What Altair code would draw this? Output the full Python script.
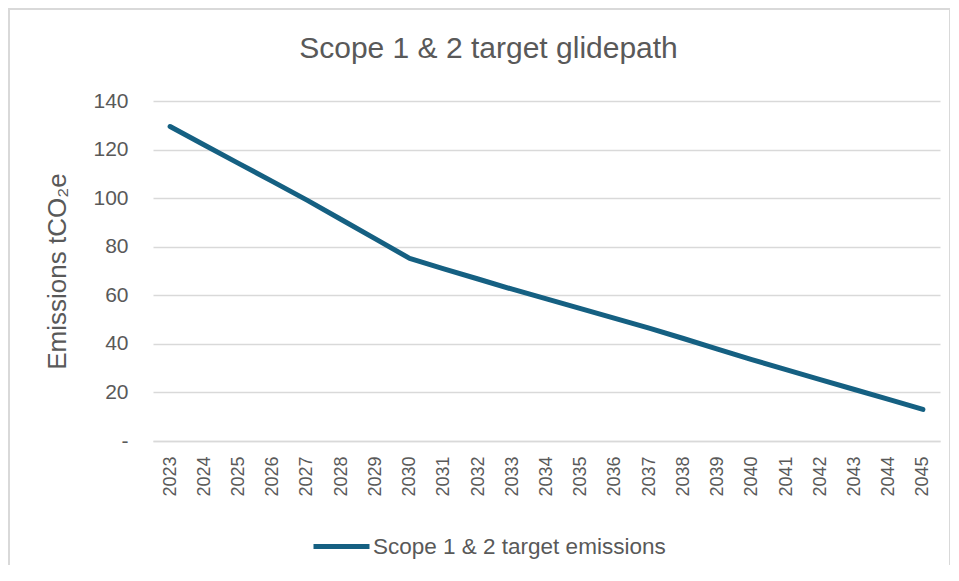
import altair as alt
import pandas as pd

years = [str(y) for y in range(2023, 2046)]
emissions = [129.5, 121.9, 114.3, 106.8, 99.2, 91.2, 83.2, 75.2, 70.9, 66.7,
             62.5, 58.5, 54.5, 50.5, 46.5, 42.2, 37.8, 33.5, 29.4, 25.3,
             21.2, 17.1, 13.0]
series_name = "Scope 1 & 2 target emissions"
y_ticks = [0, 20, 40, 60, 80, 100, 120, 140]

df = pd.DataFrame({"year": years, "value": emissions, "series": series_name})

W, H = 787, 340
TEXT = "#595959"
FONT = "Liberation Sans"

line = alt.Chart(df).mark_line(strokeWidth=5, strokeCap="round", strokeJoin="round").encode(
    x=alt.X("year:O", scale=alt.Scale(type="point", padding=0.5),
            axis=alt.Axis(title=None, labelAngle=-90, labelPadding=15, labelFontSize=18,
                          labelColor=TEXT, labelFont=FONT, ticks=False, domain=True,
                          domainColor="#d9d9d9", domainWidth=1.5, grid=False)),
    y=alt.Y("value:Q", scale=alt.Scale(domain=[0, 140], nice=False),
            axis=alt.Axis(values=y_ticks, title="Emissions tCO₂e",
                          labelExpr="datum.value == 0 ? '-' : datum.label",
                          labelFontSize=21, labelColor=TEXT, labelFont=FONT, labelPadding=25,
                          ticks=False, domain=False, grid=True, gridColor="#d9d9d9",
                          gridWidth=1.5, titleFontSize=26, titleColor=TEXT, titleFont=FONT,
                          titleFontWeight="normal", titleAngle=-90, titleX=-96, titleY=170,
                          titleAlign="center", titleBaseline="middle")),
    color=alt.Color("series:N", scale=alt.Scale(range=["#156082"]),
                    legend=alt.Legend(title=None, orient="none", legendX=158, legendY=415,
                                      symbolType="stroke", symbolSize=3136,
                                      symbolStrokeWidth=5, labelFontSize=22.5, labelLimit=0,
                                      labelColor=TEXT, labelFont=FONT, labelOffset=1)),
)

frame = alt.Chart(pd.DataFrame({"a": [0]})).mark_rect(
    fillOpacity=0, stroke="#d9d9d9", strokeWidth=2
).encode(x=alt.value(-144), x2=alt.value(797), y=alt.value(-92), y2=alt.value(520))

chart = alt.layer(frame, line).properties(
    width=W, height=H,
    title=alt.TitleParams("Scope 1 & 2 target glidepath", fontSize=30, font=FONT,
                          fontWeight="normal", color=TEXT, anchor="middle", dx=-58,
                          offset=0, dy=56, frame="group"),
    autosize=alt.AutoSizeParams(type="none"),
    padding={"left": 145, "top": 93, "right": 10, "bottom": 124},
).configure_view(stroke=None)

chart.save("out.html", embed_options={"renderer": "svg", "actions": False})
